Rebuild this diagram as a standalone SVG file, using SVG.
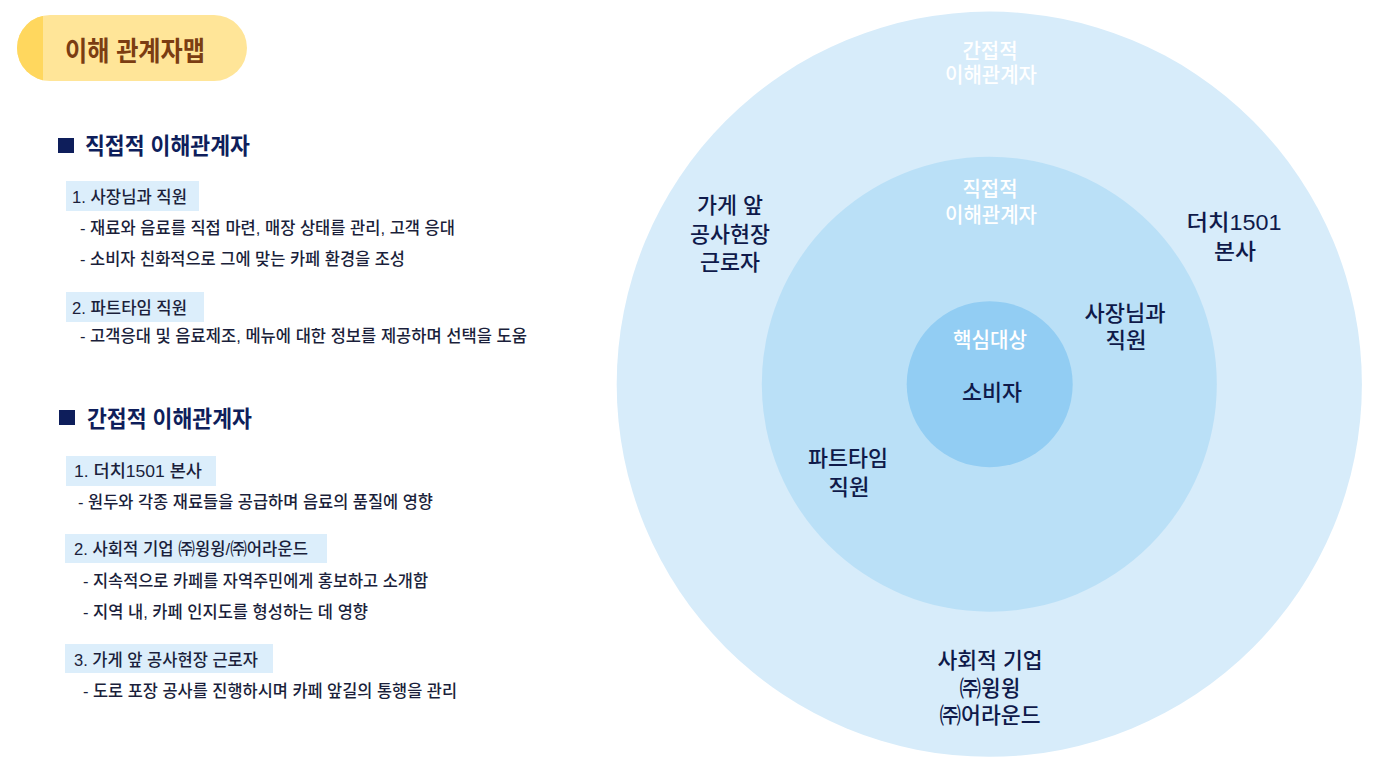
<svg xmlns="http://www.w3.org/2000/svg" width="1389" height="777" viewBox="0 0 1389 777">
<style>
  text { font-family: "Liberation Sans", "Noto Sans CJK KR", sans-serif; }
  .title { font-size: 27px; font-weight: 700; fill: #7B3D12; }
  .head { font-size: 22.5px; font-weight: 700; fill: #0E1E5B; }
  .item { font-size: 16.5px; font-weight: 500; fill: #1B1F3B; }
  .box { fill: #DCEEFB; }
  .sq { fill: #0E1E5B; }
  .lbl { font-size: 22px; font-weight: 500; fill: #0F1A4A; text-anchor: middle; }
  .wlbl { font-size: 21px; font-weight: 500; fill: #FFFFFF; text-anchor: middle; }
</style>
<defs>
  <clipPath id="pillClip"><rect x="17" y="15" width="230" height="66" rx="33" ry="33"/></clipPath>
</defs>
<rect width="1389" height="777" fill="#FFFFFF"/>

<g id="title-badge">
  <g clip-path="url(#pillClip)">
    <rect x="17" y="15" width="230" height="66" fill="#FFE598"/>
    <rect x="17" y="15" width="26" height="66" fill="#FFD75E"/>
  </g>
  <text class="title" x="65" y="61" textLength="140" lengthAdjust="spacingAndGlyphs">이해 관계자맵</text>
</g>

<g id="direct-section">
  <rect class="sq" x="58" y="138" width="16" height="15"/>
  <text class="head" x="85" y="154" textLength="165" lengthAdjust="spacingAndGlyphs">직접적 이해관계자</text>
  <g id="direct-1">
    <rect class="box" x="66" y="181" width="133" height="30"/>
    <text class="item" x="72" y="203" textLength="115" lengthAdjust="spacingAndGlyphs">1. 사장님과 직원</text>
    <text class="item" x="80" y="234" textLength="375" lengthAdjust="spacingAndGlyphs">- 재료와 음료를 직접 마련, 매장 상태를 관리, 고객 응대</text>
    <text class="item" x="80" y="265" textLength="325" lengthAdjust="spacingAndGlyphs">- 소비자 친화적으로 그에 맞는 카페 환경을 조성</text>
  </g>
  <g id="direct-2">
    <rect class="box" x="66" y="292" width="138" height="30"/>
    <text class="item" x="72" y="314" textLength="115" lengthAdjust="spacingAndGlyphs">2. 파트타임 직원</text>
    <text class="item" x="80" y="342" textLength="447" lengthAdjust="spacingAndGlyphs">- 고객응대 및 음료제조, 메뉴에 대한 정보를 제공하며 선택을 도움</text>
  </g>
</g>

<g id="indirect-section">
  <rect class="sq" x="59" y="410" width="16" height="15"/>
  <text class="head" x="87" y="427" textLength="165" lengthAdjust="spacingAndGlyphs">간접적 이해관계자</text>
  <g id="indirect-1">
    <rect class="box" x="66" y="456" width="150" height="30"/>
    <text class="item" x="74" y="477" textLength="128" lengthAdjust="spacingAndGlyphs">1. 더치1501 본사</text>
    <text class="item" x="78" y="508" textLength="355" lengthAdjust="spacingAndGlyphs">- 원두와 각종 재료들을 공급하며 음료의 품질에 영향</text>
  </g>
  <g id="indirect-2">
    <rect class="box" x="65" y="534" width="262" height="29"/>
    <text class="item" x="74" y="555" textLength="234" lengthAdjust="spacingAndGlyphs">2. 사회적 기업 ㈜윙윙/㈜어라운드</text>
    <text class="item" x="83" y="587" textLength="345" lengthAdjust="spacingAndGlyphs">- 지속적으로 카페를 자역주민에게 홍보하고 소개함</text>
    <text class="item" x="83" y="618" textLength="285" lengthAdjust="spacingAndGlyphs">- 지역 내, 카페 인지도를 형성하는 데 영향</text>
  </g>
  <g id="indirect-3">
    <rect class="box" x="65" y="644" width="208" height="29"/>
    <text class="item" x="74" y="666" textLength="184" lengthAdjust="spacingAndGlyphs">3. 가게 앞 공사현장 근로자</text>
    <text class="item" x="83" y="697" textLength="374" lengthAdjust="spacingAndGlyphs">- 도로 포장 공사를 진행하시며 카페 앞길의 통행을 관리</text>
  </g>
</g>

<g id="connectors"></g>

<g id="ring-indirect">
  <circle cx="989.3" cy="384.2" r="372.6" fill="#D7ECFA"/>
  <text class="wlbl"><tspan x="990" y="58" textLength="55" lengthAdjust="spacingAndGlyphs">간접적</tspan><tspan x="991" y="82" textLength="92" lengthAdjust="spacingAndGlyphs">이해관계자</tspan></text>
</g>
<g id="node-workers">
  <text class="lbl"><tspan x="730" y="213" textLength="66" lengthAdjust="spacingAndGlyphs">가게 앞</tspan><tspan x="730" y="242" textLength="80" lengthAdjust="spacingAndGlyphs">공사현장</tspan><tspan x="730" y="270" textLength="60" lengthAdjust="spacingAndGlyphs">근로자</tspan></text>
</g>
<g id="node-hq">
  <text class="lbl"><tspan x="1234" y="230" textLength="95" lengthAdjust="spacingAndGlyphs">더치1501</tspan><tspan x="1235" y="259" textLength="42" lengthAdjust="spacingAndGlyphs">본사</tspan></text>
</g>
<g id="node-social">
  <text class="lbl"><tspan x="990" y="668" textLength="105" lengthAdjust="spacingAndGlyphs">사회적 기업</tspan><tspan x="990" y="696" textLength="61" lengthAdjust="spacingAndGlyphs">㈜윙윙</tspan><tspan x="990" y="723" textLength="101" lengthAdjust="spacingAndGlyphs">㈜어라운드</tspan></text>
</g>

<g id="ring-direct">
  <circle cx="989.3" cy="384.2" r="227.5" fill="#BAE0F7"/>
  <text class="wlbl"><tspan x="990" y="196" textLength="55" lengthAdjust="spacingAndGlyphs">직접적</tspan><tspan x="991" y="222" textLength="92" lengthAdjust="spacingAndGlyphs">이해관계자</tspan></text>
</g>
<g id="node-owner">
  <text class="lbl"><tspan x="1125" y="321" textLength="81" lengthAdjust="spacingAndGlyphs">사장님과</tspan><tspan x="1126" y="348" textLength="41" lengthAdjust="spacingAndGlyphs">직원</tspan></text>
</g>
<g id="node-parttime">
  <text class="lbl"><tspan x="848" y="466" textLength="80" lengthAdjust="spacingAndGlyphs">파트타임</tspan><tspan x="849" y="495" textLength="41" lengthAdjust="spacingAndGlyphs">직원</tspan></text>
</g>

<g id="core">
  <circle cx="989.7" cy="384.2" r="83" fill="#92CDF3"/>
  <text class="wlbl" x="990" y="347" textLength="74" lengthAdjust="spacingAndGlyphs">핵심대상</text>
  <text class="lbl" x="992" y="400" textLength="60" lengthAdjust="spacingAndGlyphs">소비자</text>
</g>
</svg>
